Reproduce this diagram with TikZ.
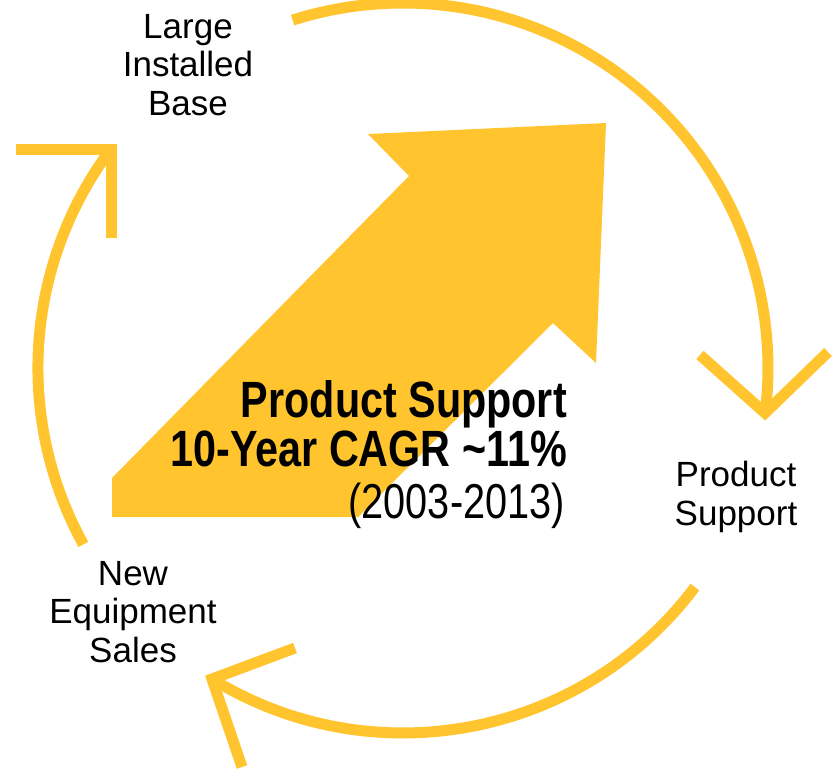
\documentclass[tikz,border=0pt]{standalone}
\usepackage{fontspec}
\setmainfont{Liberation Sans}
\newfontfamily\narrowfont[FakeStretch=0.81]{Liberation Sans}
\definecolor{catyellow}{RGB}{255,196,46}

\tikzset{
  ring/.style={draw=catyellow, line width=11pt},
  barb/.style={draw=catyellow, line width=11pt, line join=miter},
  stage/.style={align=center, inner sep=0pt, anchor=base, font=\fontsize{35}{38.5}\selectfont},
  headline/.style={anchor=base east, inner sep=0pt, font=\narrowfont\bfseries\fontsize{51}{51}\selectfont}
}

\begin{document}
\begin{tikzpicture}[x=1pt, y=-1pt]
        \useasboundingbox (0,0) rectangle (833,769);

        \fill[catyellow] (112,517) -- (112,478) -- (409,176) -- (368,134) -- (606,123)
          -- (596,363) -- (553,323) -- (358,517) -- cycle;

        \node[stage] (base) at (188,115) {Large\\Installed\\Base};
        \node[stage] (support) at (736,525) {Product\\Support};
        \node[stage] (sales) at (133,662) {New\\Equipment\\Sales};

        \node[headline] (title) at (567,417) {Product Support};
        \node[headline] (cagr) at (567,466) {10-Year CAGR \textasciitilde11\%};
        \node[headline, font=\narrowfont\fontsize{49}{49}\selectfont] (span) at (565,518) {(2003-2013)};

        \coordinate (topstart) at (292.6,20.1);
        \coordinate (leftstart) at (83.4,544.4);
        \coordinate (bottomstart) at (694.9,587.1);

        \coordinate (basetip) at (111.7,149.5);
        \coordinate (supporttip) at (765,413);
        \coordinate (salestip) at (212,679);

        \draw[ring] (topstart) arc[start angle=-107.6, end angle=7, radius=365];
        \draw[barb] (700,355) -- (supporttip) -- (828,352);

        \draw[ring] (bottomstart) arc[start angle=36.9, end angle=121.9, radius=365];
        \draw[barb] (295,648) -- (salestip) -- (242,767);

        \draw[ring] (leftstart) arc[start angle=151.1, end angle=216.7, radius=365];
        \draw[barb] (16,149.5) -- (basetip) -- (111.7,238.3);
      \end{tikzpicture}
\end{document}
